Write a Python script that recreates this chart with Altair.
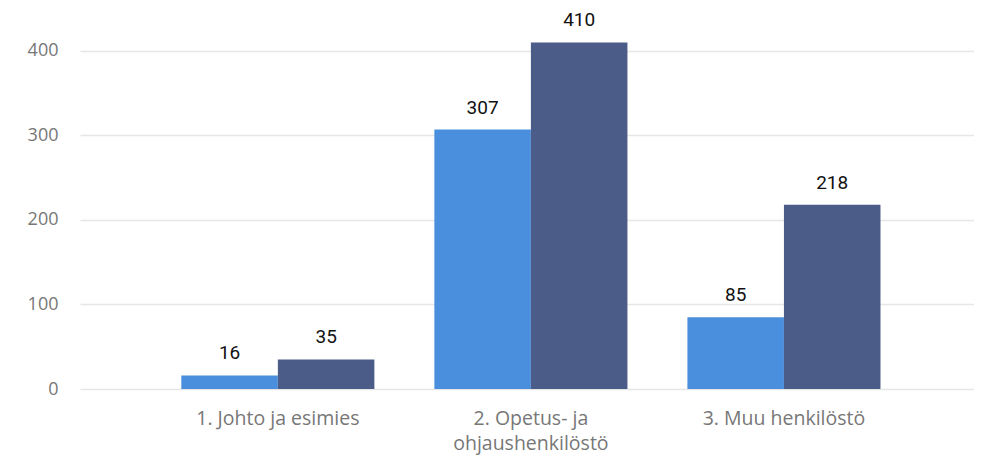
import altair as alt
import pandas as pd

categories = ["1. Johto ja esimies", "2. Opetus- ja|ohjaushenkilöstö", "3. Muu henkilöstö"]
series = ["Sarja 1", "Sarja 2"]
values_s1 = [16, 307, 85]
values_s2 = [35, 410, 218]
y_ticks = [0, 100, 200, 300, 400]
colors = ["#4A8FDD", "#4B5C89"]

rows = []
for c, a, b in zip(categories, values_s1, values_s2):
    rows.append({"category": c, "series": series[0], "value": a})
    rows.append({"category": c, "series": series[1], "value": b})
df = pd.DataFrame(rows)

x = alt.X("category:N", sort=categories, title=None,
          scale=alt.Scale(paddingInner=0.237, paddingOuter=0.385, align=0.52),
          axis=alt.Axis(labelExpr="split(datum.label, '|')", labelAngle=0,
                        labelFont="Open Sans", labelFontSize=19.5, labelColor="#777777",
                        labelPadding=20, labelLineHeight=25.5, ticks=False, domain=False,
                        grid=False))
y = alt.Y("value:Q", title=None,
          scale=alt.Scale(domain=[0, 420], nice=False),
          axis=alt.Axis(values=y_ticks, labelFont="Open Sans", labelFontSize=18,
                        labelColor="#777777", labelPadding=22, ticks=False, domain=False,
                        gridColor="#E6E6E6", gridWidth=1.5))
xo = alt.XOffset("series:N", sort=series, scale=alt.Scale(paddingInner=0))

base = alt.Chart(df).encode(x=x, xOffset=xo, y=y)

bars = base.mark_bar().encode(
    color=alt.Color("series:N", sort=series, scale=alt.Scale(domain=series, range=colors), legend=None)
)
labels = base.mark_text(dy=-16, baseline="alphabetic", font="Roboto", fontSize=19,
                        fontWeight="normal", color="#111111").encode(text="value:Q")

chart = (bars + labels).properties(
    width=894, height=355,
    autosize=alt.AutoSizeParams(type="none"),
    padding={"left": 72, "top": 26, "right": 0, "bottom": 68},
).configure_view(stroke=None)

chart.save("out.html", embed_options={"renderer": "svg", "actions": False})
